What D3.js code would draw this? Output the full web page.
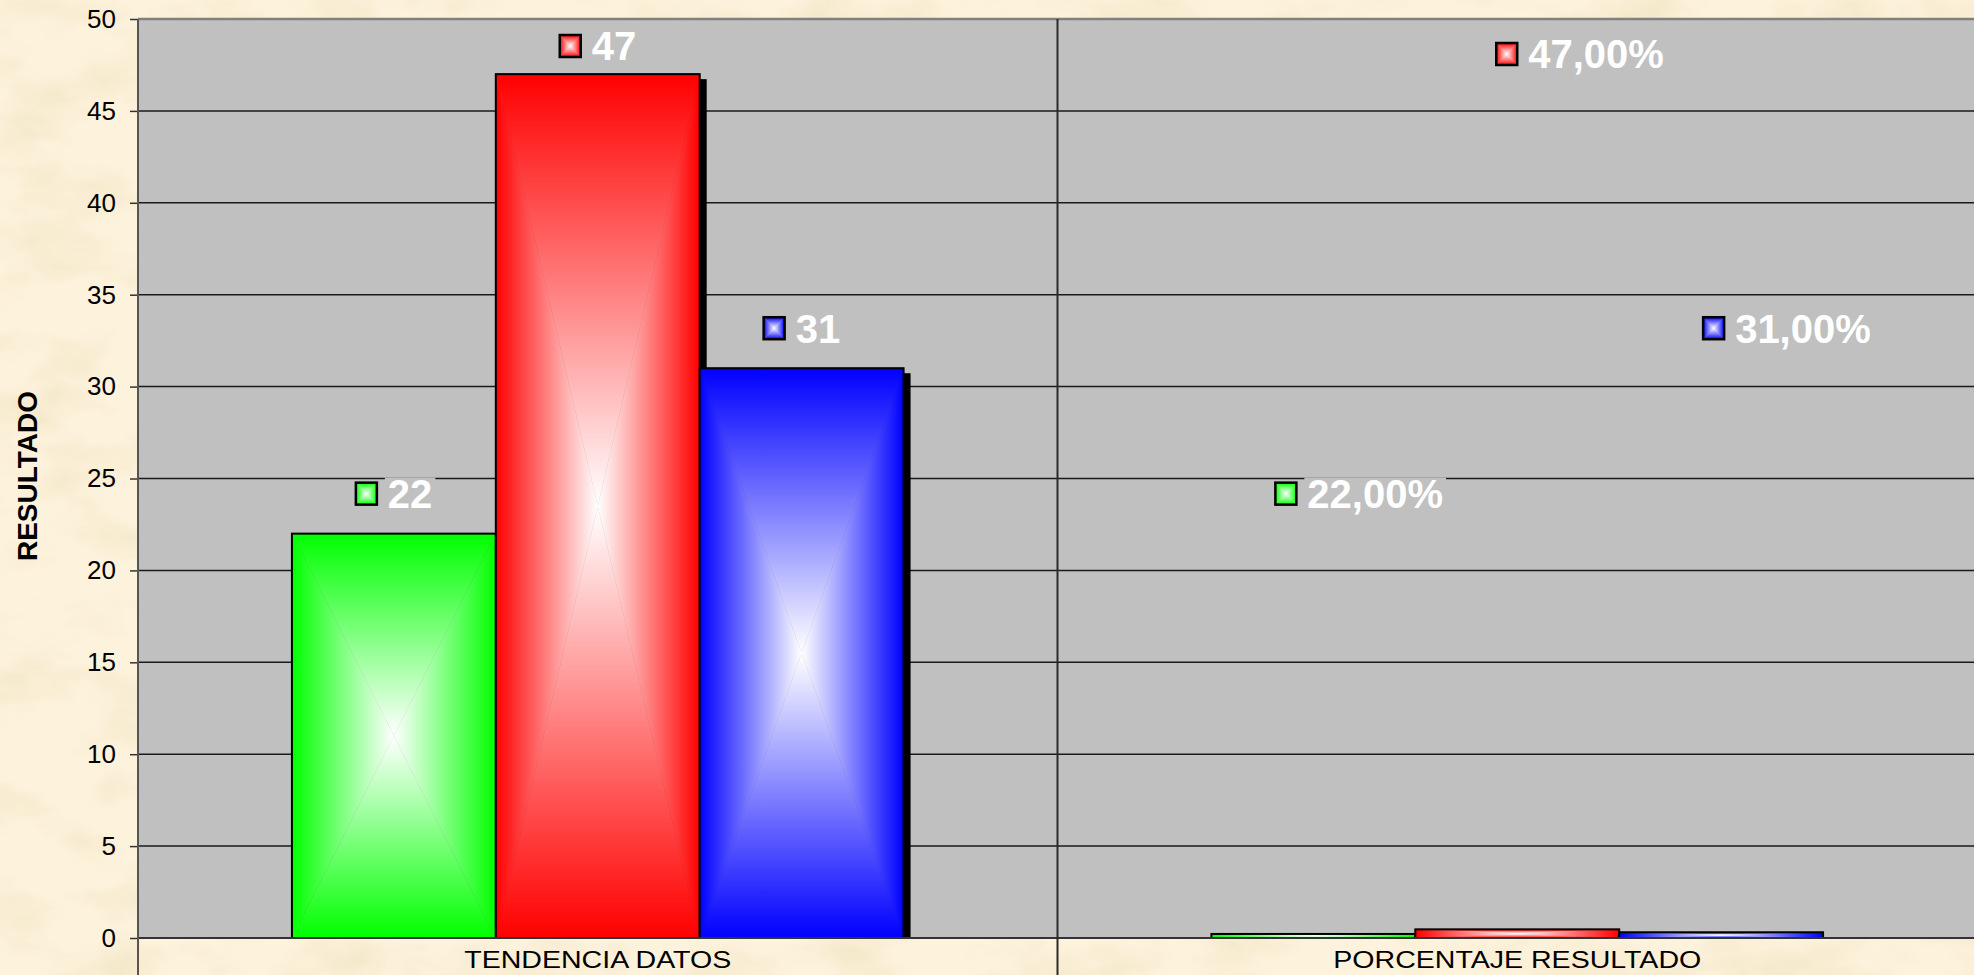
<!DOCTYPE html>
<html>
<head>
<meta charset="utf-8">
<script src="https://cdn.jsdelivr.net/npm/d3@7"></script>
<style>
body { margin: 0; overflow: hidden; background: #fdf2dc; }
text { font-family: "Liberation Sans", Arial, sans-serif; }
</style>
</head>
<body>
<div id="chart"></div>
<script>
var categories = ['TENDENCIA DATOS', 'PORCENTAJE RESULTADO'];
var seriesNames = ['Serie 1', 'Serie 2', 'Serie 3'];
var tendencia = [22, 47, 31];
var porcentaje = [0.22, 0.47, 0.31];
var yTicks = [0, 5, 10, 15, 20, 25, 30, 35, 40, 45, 50];

var colours = ['#00ff00', '#ff0000', '#0000ff'];

var width = 1974, height = 975;
var plot = {left: 138, right: 1977, top: 19, bottom: 938};

// label nudges (px) per category / series, as Excel placed them
var labelShift = [[-38, -38, -38], [-38, -21, -18]];

var svg = d3.select('#chart').append('svg')
    .attr('width', width)
    .attr('height', height);

var defs = svg.append('defs');

// parchment texture
var paper = defs.append('filter').attr('id', 'paper')
    .attr('x', 0).attr('y', 0).attr('width', 1).attr('height', 1);
paper.append('feTurbulence')
    .attr('type', 'fractalNoise')
    .attr('baseFrequency', '0.01 0.018')
    .attr('numOctaves', 4)
    .attr('seed', 7);
paper.append('feColorMatrix')
    .attr('type', 'matrix')
    .attr('values', '0 0 0 0 0.90  0 0 0 0 0.80  0 0 0 0 0.58  2.2 0 0 0 -0.98');

defs.append('clipPath').attr('id', 'plotClip')
  .append('rect')
    .attr('x', plot.left).attr('y', plot.top)
    .attr('width', plot.right - plot.left)
    .attr('height', plot.bottom - plot.top);

// gradients: colour at the edge, white in the middle (one per direction)
var dirs = {
  top:    {x1: 0, y1: 0, x2: 0, y2: 1},
  bottom: {x1: 0, y1: 1, x2: 0, y2: 0},
  left:   {x1: 0, y1: 0, x2: 1, y2: 0},
  right:  {x1: 1, y1: 0, x2: 0, y2: 0}
};
colours.forEach(function(c, i) {
  Object.keys(dirs).forEach(function(k) {
    var g = defs.append('linearGradient')
        .attr('id', 'g' + i + k)
        .attr('x1', dirs[k].x1).attr('y1', dirs[k].y1)
        .attr('x2', dirs[k].x2).attr('y2', dirs[k].y2);
    g.append('stop').attr('offset', '0%').attr('stop-color', c);
    g.append('stop').attr('offset', '100%').attr('stop-color', '#ffffff');
  });
});

svg.append('rect')
    .attr('width', width).attr('height', height)
    .style('fill', '#fdf2dc');
svg.append('rect')
    .attr('width', width).attr('height', height)
    .attr('filter', 'url(#paper)');

var x0 = d3.scaleBand().domain(categories).range([plot.left, plot.right]);
var x1 = d3.scaleBand().domain(seriesNames).range([0, x0.bandwidth()]).paddingOuter(0.755);
var y = d3.scaleLinear().domain([0, 50]).range([plot.bottom, plot.top]);

var pctFormat = d3.formatLocale({decimal: ',', thousands: '.', grouping: [3], currency: ['', '€']}).format('.2%');

var rows = categories.map(function(c, i) {
  return {
    cat: c,
    values: seriesNames.map(function(s, j) {
      var v = i === 0 ? tendencia[j] : porcentaje[j];
      return {
        cat: c, ci: i, series: s, si: j, value: v,
        labelValue: i === 0 ? v : v * 100,
        label: i === 0 ? String(v) : pctFormat(v)
      };
    })
  };
});

// plot area
svg.append('rect')
    .attr('x', plot.left).attr('y', plot.top)
    .attr('width', plot.right - plot.left)
    .attr('height', plot.bottom - plot.top)
    .style('fill', '#c0c0c0');

// gridlines
svg.append('g').selectAll('line')
    .data(yTicks.filter(function(t) { return t > 0 && t < 50; }))
  .enter().append('line')
    .attr('x1', plot.left).attr('x2', plot.right)
    .attr('y1', function(d) { return y(d); })
    .attr('y2', function(d) { return y(d); })
    .style('stroke', '#1a1a1a')
    .style('stroke-width', 1.5);

// top border of plot area
svg.append('line')
    .attr('x1', plot.left).attr('x2', plot.right)
    .attr('y1', y(50)).attr('y2', y(50))
    .style('stroke', '#808080')
    .style('stroke-width', 2.5);

// draws a box with a rectangular "from centre" gradient
function gradBox(g, x, yy, w, h, si, sw) {
  var cx = x + w / 2, cy = yy + h / 2;
  var tris = [
    ['top',    [[x, yy], [x + w, yy], [cx, cy]]],
    ['bottom', [[x, yy + h], [x + w, yy + h], [cx, cy]]],
    ['left',   [[x, yy], [x, yy + h], [cx, cy]]],
    ['right',  [[x + w, yy], [x + w, yy + h], [cx, cy]]]
  ];
  tris.forEach(function(t) {
    g.append('path')
        .attr('d', 'M' + t[1].join('L') + 'Z')
        .style('fill', 'url(#g' + si + t[0] + ')')
        .style('stroke', 'url(#g' + si + t[0] + ')')
        .style('stroke-width', 0.6);
  });
  g.append('rect')
      .attr('x', x).attr('y', yy).attr('width', w).attr('height', h)
      .style('fill', 'none')
      .style('stroke', '#000')
      .style('stroke-width', sw || 2);
}

var groups = svg.append('g').selectAll('.cat')
    .data(rows)
  .enter().append('g')
    .attr('class', 'cat')
    .attr('transform', function(d) { return 'translate(' + x0(d.cat) + ',0)'; });

// shadows
groups.append('g')
    .attr('clip-path', 'url(#plotClip)')
    .attr('transform', function(d) { return 'translate(' + (-x0(d.cat)) + ',0)'; })
  .selectAll('rect')
    .data(function(d) { return d.values; })
  .enter().append('rect')
    .attr('x', function(d) { return x0(d.cat) + x1(d.series) + 7; })
    .attr('y', function(d) { return y(d.value) + 5; })
    .attr('width', x1.bandwidth())
    .attr('height', function(d) { return plot.bottom - y(d.value); })
    .style('fill', '#000');

// bars
groups.each(function(row) {
  var g = d3.select(this);
  row.values.forEach(function(d) {
    gradBox(g.append('g'), x1(d.series), y(d.value), x1.bandwidth(), plot.bottom - y(d.value), d.si);
  });
});

// axes lines
svg.append('line')
    .attr('x1', plot.left).attr('x2', plot.right)
    .attr('y1', plot.bottom).attr('y2', plot.bottom)
    .style('stroke', '#333')
    .style('stroke-width', 2);

svg.append('g').selectAll('line')
    .data(categories)
  .enter().append('line')
    .attr('x1', function(d) { return x0(d) + x0.bandwidth(); })
    .attr('x2', function(d) { return x0(d) + x0.bandwidth(); })
    .attr('y1', plot.top).attr('y2', height)
    .style('stroke', '#2a2a2a')
    .style('stroke-width', 2);

var yAxis = svg.append('g')
    .attr('transform', 'translate(' + plot.left + ',0)')
    .call(d3.axisLeft(y).tickValues(yTicks).tickSize(8).tickPadding(14));
yAxis.select('.domain').remove();
yAxis.selectAll('.tick line').style('stroke', '#333').style('stroke-width', 1.5);
yAxis.selectAll('.tick text')
    .style('font-size', '26px')
    .style('fill', '#000');
yAxis.attr('font-family', null).attr('font-size', null);

svg.append('line')
    .attr('x1', plot.left).attr('x2', plot.left)
    .attr('y1', plot.top).attr('y2', height)
    .style('stroke', '#555')
    .style('stroke-width', 2);

// category labels
svg.append('g').selectAll('text')
    .data(categories)
  .enter().append('text')
    .attr('transform', function(d) {
      return 'translate(' + (x0(d) + x0.bandwidth() / 2) + ',968) scale(1.19,1)';
    })
    .style('text-anchor', 'middle')
    .style('font-size', '24px')
    .style('fill', '#000')
    .text(function(d) { return d; });

// y axis title
svg.append('text')
    .attr('transform', 'translate(37,476) rotate(-90)')
    .style('text-anchor', 'middle')
    .style('font-size', '28px')
    .style('font-weight', 'bold')
    .style('fill', '#000')
    .text('RESULTADO');

// data labels
var labelData = [];
rows.forEach(function(r) { labelData = labelData.concat(r.values); });

var labels = svg.append('g').selectAll('.lbl')
    .data(labelData)
  .enter().append('g')
    .attr('class', 'lbl')
    .attr('transform', function(d) {
      var cx = x0(d.cat) + x1(d.series) + x1.bandwidth() / 2 + labelShift[d.ci][d.si];
      var cy = Math.max(y(d.labelValue) - 40, plot.top + (d.ci === 0 ? 27 : 35));
      return 'translate(' + cx + ',' + cy + ')';
    });

labels.each(function(d) {
  var g = d3.select(this);
  var bg = g.append('rect').style('fill', '#c0c0c0');
  var t = g.append('text')
      .attr('x', 32)
      .attr('dy', '0.36em')
      .style('font-size', '40px')
      .style('font-weight', 'bold')
      .style('fill', '#fff')
      .text(d.label);
  var bb = t.node().getBBox();
  bg.attr('x', bb.x - 3).attr('y', -16).attr('width', bb.width + 6).attr('height', 32);
  gradBox(g.append('g'), 0, -11, 21, 22, d.si, 2.5);
});
</script>
</body>
</html>
